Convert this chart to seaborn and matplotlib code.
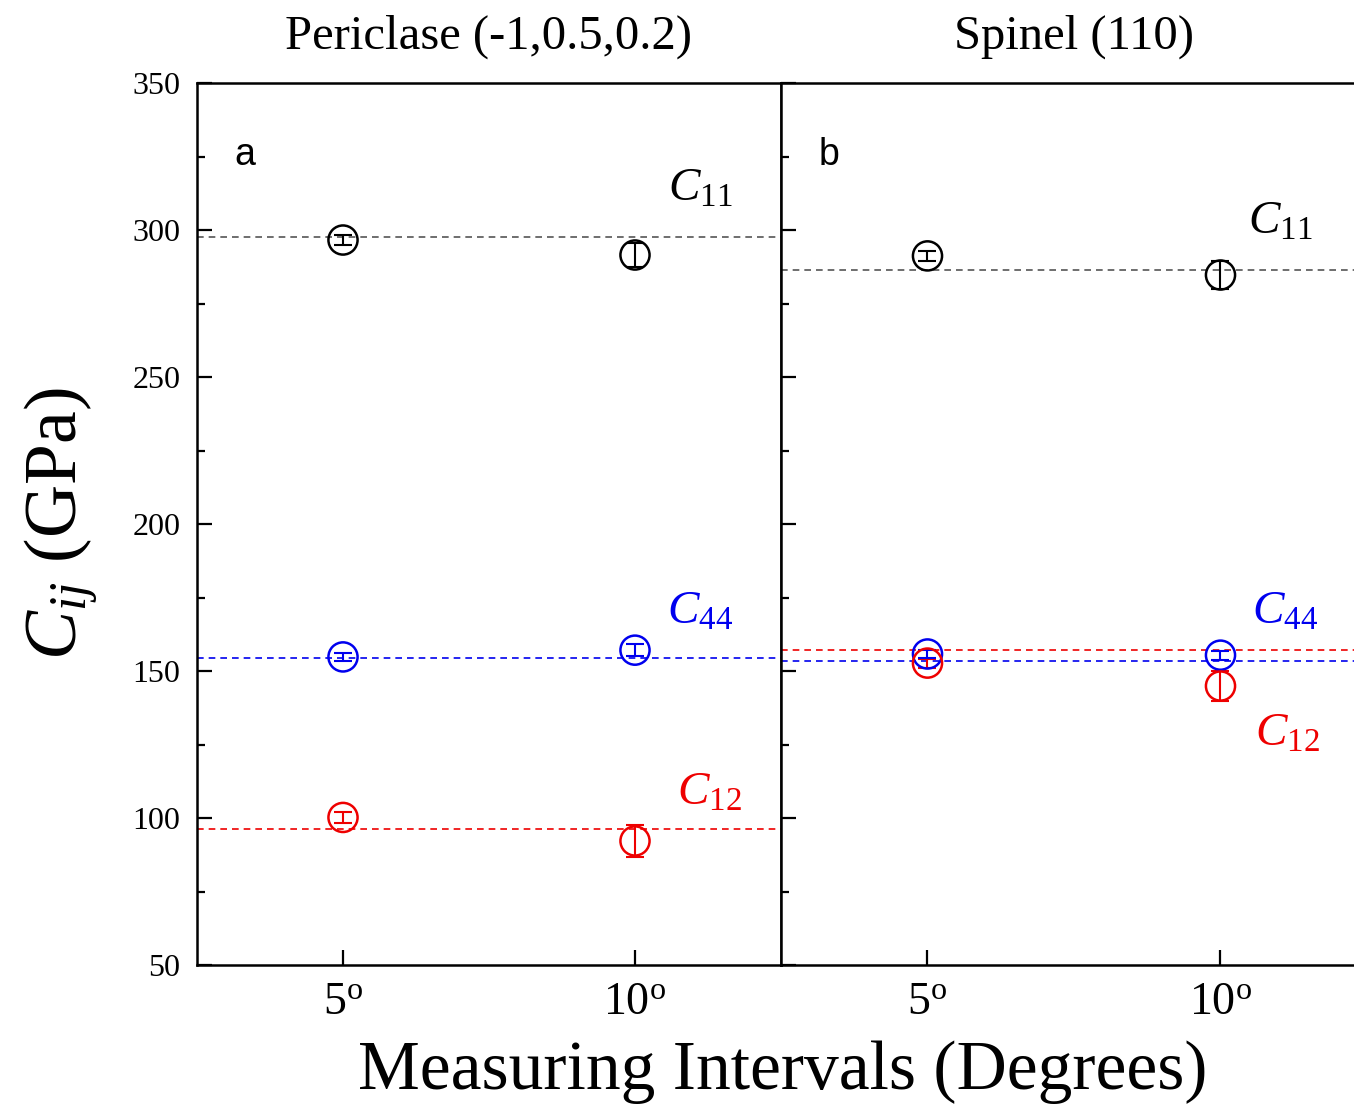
import numpy as np
import pandas as pd
import matplotlib
matplotlib.use("Agg")
import matplotlib.pyplot as plt
import seaborn as sns
from matplotlib.ticker import MultipleLocator

# measuring intervals (degrees) and tick labels
intervals = [1, 2]
interval_labels = [r"5$^{\mathrm{o}}$", r"10$^{\mathrm{o}}$"]

# Periclase (-1,0.5,0.2)
per_c11 = [296.6, 291.5]
per_c11_err = [1.8, 4.0]
per_c44 = [154.8, 157.1]
per_c44_err = [1.5, 2.0]
per_c12 = [100.2, 92.2]
per_c12_err = [1.8, 5.5]
per_ref = {"C11": 297.6, "C44": 154.4, "C12": 96.3}

# Spinel (110)
spi_c11 = [291.2, 284.7]
spi_c11_err = [1.8, 4.7]
spi_c44 = [155.8, 155.4]
spi_c44_err = [1.5, 1.5]
spi_c12 = [152.7, 144.9]
spi_c12_err = [1.5, 5.0]
spi_ref = {"C11": 286.4, "C44": 153.4, "C12": 157.1}

colors = {"C11": "black", "C44": "#0000ee", "C12": "#ee0000"}
ref_colors = {"C11": "#555555", "C44": "#0000ee", "C12": "#ee0000"}
sub = {"C11": "11", "C44": "44", "C12": "12"}


def make_df(c11, c11e, c44, c44e, c12, c12e):
    rows = []
    for name, vals, errs in [("C11", c11, c11e), ("C44", c44, c44e), ("C12", c12, c12e)]:
        for x, v, e in zip(intervals, vals, errs):
            rows.append({"x": x, "value": v, "err": e, "Cij": name})
    return pd.DataFrame(rows)


sns.set_theme(style="ticks")
plt.rcParams["font.family"] = ["Liberation Serif", "DejaVu Serif"]
plt.rcParams["mathtext.fontset"] = "custom"
plt.rcParams["mathtext.rm"] = "Liberation Serif"
plt.rcParams["mathtext.it"] = "Liberation Serif:italic"
for key in ["text.color", "axes.labelcolor", "xtick.color", "ytick.color", "axes.edgecolor"]:
    plt.rcParams[key] = "black"

fig = plt.figure(figsize=(13.54, 11.10), dpi=100)
ax1 = fig.add_axes([0.1455, 0.1306, 0.4313, 0.7946])
ax2 = fig.add_axes([0.5768, 0.1306, 0.4328, 0.7946], sharey=ax1)

panels = [
    (ax1, make_df(per_c11, per_c11_err, per_c44, per_c44_err, per_c12, per_c12_err), per_ref,
     "Periclase (-1,0.5,0.2)", "a",
     {"C11": (0.861, 0.879), "C44": (0.861, 0.400), "C12": (0.878, 0.195)}),
    (ax2, make_df(spi_c11, spi_c11_err, spi_c44, spi_c44_err, spi_c12, spi_c12_err), spi_ref,
     "Spinel (110)", "b",
     {"C11": (0.852, 0.842), "C44": (0.860, 0.400), "C12": (0.865, 0.261)}),
]

for ax, df, ref, title, letter, label_pos in panels:
    for name in ["C11", "C12", "C44"]:
        ax.axhline(ref[name], color=ref_colors[name], ls=(0, (4, 3)), lw=1.2, zorder=1)
        d = df[df["Cij"] == name]
        ax.errorbar(d["x"], d["value"], yerr=d["err"], fmt="none", ecolor=colors[name],
                    elinewidth=1.5, capsize=6.5, capthick=1.5, zorder=2)
    sns.scatterplot(data=df, x="x", y="value", hue="Cij", palette=colors, ax=ax,
                    marker="o", s=440, facecolors="none", linewidth=1.8, legend=False, zorder=3)
    # open circles: edgecolor follows hue
    coll = ax.collections[-1]
    coll.set_edgecolors([colors[c] for c in df["Cij"]])
    coll.set_facecolors("none")

    for name, (tx, ty) in label_pos.items():
        ax.text(tx, ty, r"$C_{%s}$" % sub[name], transform=ax.transAxes, color=colors[name],
                fontsize=34, ha="center", va="center")
    ax.text(0.082, 0.918, letter, transform=ax.transAxes, fontsize=27,
            family=["Liberation Sans", "DejaVu Sans"], ha="center", va="center")
    ax.set_title(title, fontsize=35, pad=25)

    ax.set_xlim(0.5, 2.5)
    ax.set_ylim(50, 350)
    ax.set_xticks(intervals)
    ax.set_xticklabels(interval_labels, fontsize=33)
    ax.yaxis.set_major_locator(MultipleLocator(50))
    ax.yaxis.set_minor_locator(MultipleLocator(25))
    ax.tick_params(axis="both", which="major", direction="in", length=11, width=1.6)
    ax.tick_params(axis="y", which="minor", direction="in", length=6, width=1.6)
    ax.tick_params(axis="x", which="minor", bottom=False)
    ax.tick_params(axis="x", pad=12)
    ax.set_xlabel("")
    ax.set_ylabel("")
    for sp in ax.spines.values():
        sp.set_linewidth(1.8)
        sp.set_color("black")

ax1.tick_params(axis="y", labelsize=23, pad=12)
ax2.tick_params(axis="y", which="both", labelleft=False)

ax1.set_ylabel(r"$C_{ij}$ (GPa)", fontsize=53, labelpad=24)
fig.text(0.578, 0.034, "Measuring Intervals (Degrees)", fontsize=50, ha="center", va="center")

fig.savefig("out.png", dpi=100, facecolor="white")
